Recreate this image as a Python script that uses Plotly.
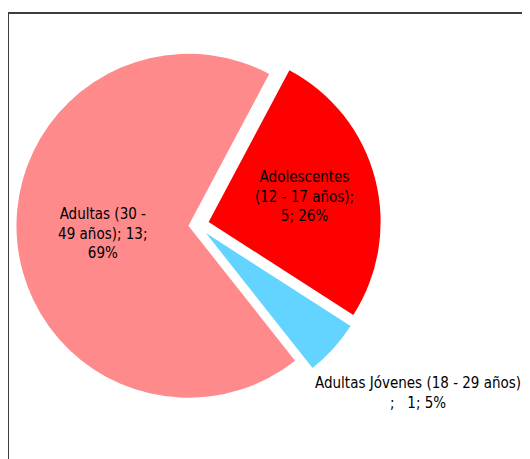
import plotly.graph_objects as go

categories = ["Adolescentes (12 - 17 años)", "Adultas Jóvenes (18 - 29 años)", "Adultas (30 - 49 años)"]
values = [5, 1, 13]
percent_labels = ["26%", "5%", "69%"]
slice_texts = [
    "Adolescentes<br>(12 - 17 años);<br>5; 26%",
    "",
    "Adultas (30 -<br>49 años); 13;<br>69%",
]
outside_label = "Adultas Jóvenes (18 - 29 años)<br>;   1; 5%"
colors = ["#FF0000", "#62D4FF", "#FF8A8C"]

W, H = 530, 459
OFF = 8  # page body margin
cx, cy, S = 197 - OFF, 225 - OFF, 368
FONT = "DejaVu Sans Condensed, Liberation Sans Narrow, sans-serif"

fig = go.Figure(go.Pie(
    labels=categories,
    values=values,
    text=slice_texts,
    textinfo="text",
    textposition="inside",
    insidetextorientation="horizontal",
    automargin=False,
    sort=False,
    direction="clockwise",
    rotation=28,
    pull=[0.07, 0.07, 0.05],
    marker=dict(colors=colors, line=dict(color="white", width=0)),
    textfont=dict(family=FONT, size=15, color="black"),
    insidetextfont=dict(family=FONT, size=15, color="black"),
    showlegend=False,
    hoverinfo="label+value+percent",
    domain=dict(x=[(cx - S / 2) / W, (cx + S / 2) / W], y=[1 - (cy + S / 2) / H, 1 - (cy - S / 2) / H]),
))

fig.add_annotation(xref="paper", yref="paper",
                   x=(418 - OFF) / W, y=1 - (393 - OFF) / H,
                   xanchor="center", yanchor="middle",
                   text=outside_label, showarrow=False,
                   font=dict(family=FONT, size=15, color="black"))

fig.add_shape(type="rect", xref="paper", yref="paper",
              x0=(8 - OFF) / W, x1=1.05, y0=-0.05, y1=1 - (13 - OFF) / H,
              line=dict(color="#3d3d3d", width=2), fillcolor="rgba(0,0,0,0)")

fig.update_layout(
    width=W, height=H,
    margin=dict(l=0, r=0, t=0, b=0, autoexpand=False),
    paper_bgcolor="white",
    plot_bgcolor="white",
)

fig.write_html("out.html")
